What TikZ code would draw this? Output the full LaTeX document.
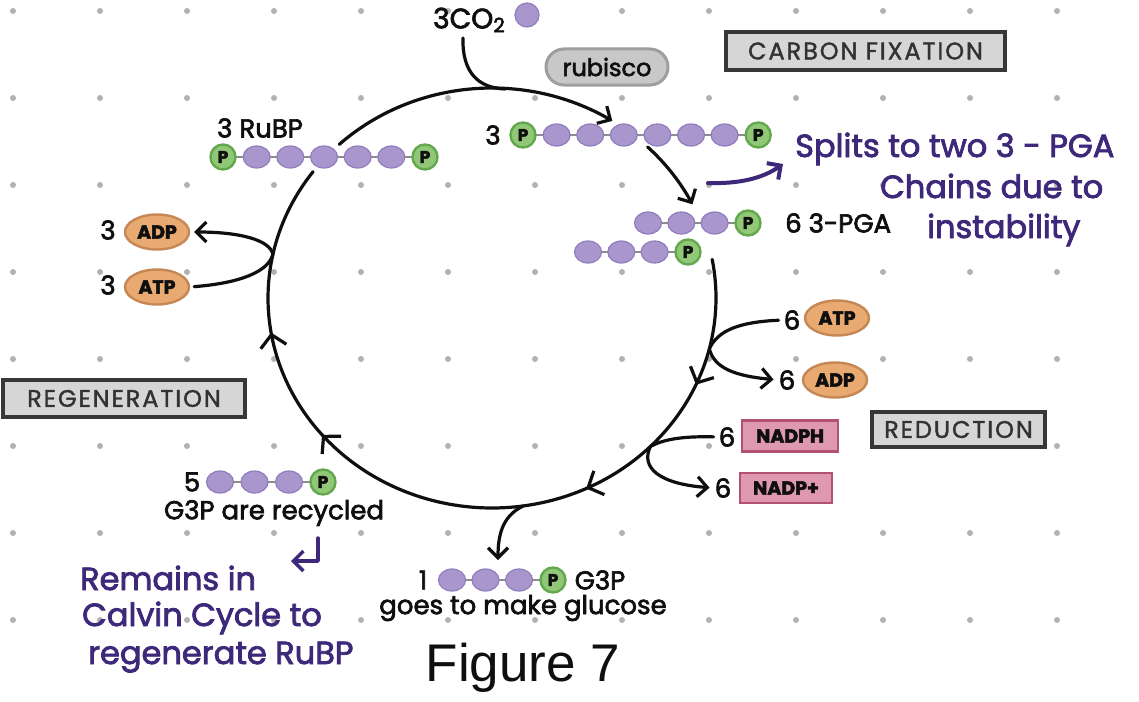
\documentclass[tikz,border=0pt]{standalone}
\usepackage{fontspec}
\setmainfont{Poppins}[FakeBold=2.5]
\newfontfamily\boxfont{Poppins}[FakeBold=1.5, LetterSpace=8]
\newfontfamily\figfont{Liberation Sans}
\usetikzlibrary{arrows.meta,shapes.geometric,decorations.markings,backgrounds}
\definecolor{ink}{RGB}{15,15,15}
\definecolor{hand}{RGB}{62,40,122}
\definecolor{carbfill}{RGB}{168,150,205}
\definecolor{carbedge}{RGB}{145,125,190}
\definecolor{phfill}{RGB}{145,200,120}
\definecolor{phedge}{RGB}{100,168,78}
\definecolor{enfill}{RGB}{232,170,112}
\definecolor{enedge}{RGB}{196,135,85}
\definecolor{nadfill}{RGB}{222,152,176}
\definecolor{nadedge}{RGB}{178,82,112}
\definecolor{boxfill}{RGB}{214,214,214}
\definecolor{boxedge}{RGB}{55,55,55}
\definecolor{boxtext}{RGB}{50,50,50}
\definecolor{pillfill}{RGB}{200,200,200}
\definecolor{pilledge}{RGB}{158,158,158}
\definecolor{dotc}{RGB}{178,178,178}
\definecolor{bondc}{RGB}{140,140,140}
\begin{document}
\begin{tikzpicture}[x=1pt,y=-1pt,
  every node/.style={inner sep=0pt, text=ink},
  lbl/.style={font=\fontsize{26}{28}\selectfont},
  purp/.style={font=\fontsize{32}{34}\selectfont, text=hand, anchor=base west},
  carb/.style={ellipse, minimum width=27pt, minimum height=22pt, fill=carbfill, draw=carbedge, line width=1.2pt},
  phos/.style={circle, minimum size=25pt, fill=phfill, draw=phedge, line width=2.4pt, font=\bfseries\fontsize{17}{17}\selectfont},
  bond/.style={draw=bondc, line width=2.6pt},
  energy/.style={ellipse, minimum width=64pt, minimum height=35pt, fill=enfill, draw=enedge, line width=2.4pt, font=\bfseries\fontsize{19}{19}\selectfont},
  nad/.style={rectangle, minimum height=31pt, fill=nadfill, draw=nadedge, line width=2.4pt, font=\bfseries\fontsize{19}{19}\selectfont},
  stagebox/.style={rectangle, fill=boxfill, draw=boxedge, line width=3.2pt, text=boxtext, font=\boxfont\fontsize{24}{24}\selectfont},
  cyc/.style={draw=ink, line width=3.2pt, line cap=round},
  tip/.style={-{Straight Barb[length=10pt,width=20pt]}},
  parr/.style={draw=hand, line width=4pt, line cap=round, -{Straight Barb[length=10pt,width=20pt]}},
  chev/.style={decoration={markings,
     mark=at position 0.15 with {\arrow{Straight Barb[length=12pt,width=26pt]}},
     mark=at position 0.33 with {\arrow{Straight Barb[length=12pt,width=26pt]}},
     mark=at position 0.665 with {\arrow{Straight Barb[length=12pt,width=26pt]}},
     mark=at position 0.80 with {\arrow{Straight Barb[length=12pt,width=26pt]}}},
     postaction={decorate}}
]
\begin{pgfonlayer}{background}
  \fill[white] (0,0) rectangle (1139,701);
  \foreach \i in {0,...,12}
    \foreach \j in {0,...,7}
      \fill[dotc] ({13+87*\i},{11+87*\j}) circle[radius=3pt];
\end{pgfonlayer}
\useasboundingbox (0,0) rectangle (1139,701);

% ---- stage boxes
\node[stagebox, minimum width=279pt, minimum height=38pt] (fix) at (865.5,51) {CARBON FIXATION};
\node[stagebox, minimum width=173pt, minimum height=35pt] (red) at (958.5,429.5) {REDUCTION};
\node[stagebox, minimum width=242pt, minimum height=37pt] (regen) at (124,398.5) {REGENERATION};

% ---- CO2 and rubisco
\node[font=\fontsize{28}{28}\selectfont] (co2) at (469,20) {3CO\raisebox{-4pt}{\fontsize{20}{20}\selectfont 2}};
\node[carb, minimum width=24pt, minimum height=24pt] (co2c) at (527,15) {};
\node[rectangle, rounded corners=18pt, minimum width=122pt, minimum height=36pt, fill=pillfill, draw=pilledge, line width=3pt, font=\fontsize{24}{24}\selectfont] (rub) at (607,67) {rubisco};

% ---- six-carbon chain
\node[lbl] (n6c) at (493,135) {3};
\node[phos] (c6p1) at (523,135) {P};
\foreach \i/\x in {1/556.6,2/590.2,3/623.8,4/657.4,5/691,6/724.6}
  \node[carb] (c6c\i) at (\x,135) {};
\node[phos] (c6p2) at (758.2,135) {P};

% ---- RuBP chain
\node[lbl] (rubpl) at (260,128) {3 RuBP};
\node[phos] (rbp1) at (223,157) {P};
\foreach \i/\x in {1/256.7,2/290.3,3/324,4/357.7,5/391.3}
  \node[carb] (rbc\i) at (\x,157) {};
\node[phos] (rbp2) at (425,157) {P};

% ---- 3-PGA chains
\foreach \i/\x in {1/648,2/681.3,3/714.6}
  \node[carb] (pa\i) at (\x,223) {};
\node[phos] (pap) at (748,223) {P};
\foreach \i/\x in {1/588,2/621.3,3/654.6}
  \node[carb] (pb\i) at (\x,252) {};
\node[phos] (pbp) at (688,252) {P};
\node[lbl, anchor=west] (pgal) at (785,223) {6 3-PGA};

% ---- right ATP / ADP
\node[lbl] (atpn) at (792,320) {6};
\node[energy] (atp6) at (837,318) {ATP};
\node[lbl] (adpn) at (787,380) {6};
\node[energy] (adp6) at (835,380) {ADP};

% ---- NADPH / NADP+
\node[lbl] (nadphn) at (727,437) {6};
\node[nad, minimum width=96pt] (nadph) at (790,436) {NADPH};
\node[lbl] (nadpn) at (723,488) {6};
\node[nad, minimum width=92pt, minimum height=30pt] (nadp) at (786,488) {NADP+};

% ---- left ADP / ATP
\node[lbl] (adpn3) at (108,230) {3};
\node[energy] (adp3) at (157,232) {ADP};
\node[lbl] (atpn3) at (108,285) {3};
\node[energy] (atp3) at (157,287) {ATP};

% ---- regenerated G3P
\node[lbl] (n5) at (192,482) {5};
\foreach \i/\x in {1/220,2/254.5,3/289}
  \node[carb] (ga\i) at (\x,482) {};
\node[phos] (gap) at (323,482) {P};
\node[lbl] (recyc) at (274,513) {G3P are recycled};

% ---- exported G3P
\node[lbl] (n1) at (423,580) {1};
\foreach \i/\x in {1/452,2/485.5,3/519}
  \node[carb] (gb\i) at (\x,580) {};
\node[phos] (gbp) at (553,580) {P};
\node[lbl] (g3pl) at (600,580) {G3P};
\node[lbl] (gluc) at (523,608) {goes to make glucose};

% ---- bonds
\begin{pgfonlayer}{background}
  \draw[bond] (c6p1.center) -- (c6p2.center);
  \draw[bond] (rbp1.center) -- (rbp2.center);
  \draw[bond] (pa1.center) -- (pap.center);
  \draw[bond] (pb1.center) -- (pbp.center);
  \draw[bond] (ga1.center) -- (gap.center);
  \draw[bond] (gb1.center) -- (gbp.center);
\end{pgfonlayer}

% ---- cycle
\coordinate (J1) at ({492+224*cos(14)},{298+210*sin(14)});
\coordinate (J2) at ({492+224*cos(45)},{298+210*sin(45)});
\coordinate (J3) at ({492+224*cos(192)},{298+210*sin(192)});
\coordinate (J4) at ({492+224*cos(82)},{298+210*sin(82)});
\coordinate (co2start) at (463,38);
\coordinate (merge) at (505,89);
\coordinate (g3ptip) at (498,560);

\draw[cyc, tip] plot[domain=227:302.5, samples=60] ({492+224*cos(\x)},{298+210*sin(\x)});
\draw[cyc, tip] plot[domain=314:333.5, samples=20] ({492+224*cos(\x)},{298+210*sin(\x)});
\draw[cyc, chev] plot[domain=-10.6:217, samples=160] ({492+224*cos(\x)},{298+210*sin(\x)});
\draw[cyc] (co2start) .. controls (462,72) and (478,88) .. (merge);

% ---- branches
\draw[cyc, shorten <=5pt] (atpn.west) .. controls (740,322) and (718,330) .. (J1);
\draw[cyc, tip, shorten >=5pt] (J1) .. controls (714,368) and (735,376) .. (adpn.west);
\draw[cyc, shorten <=5pt] (nadphn.west) .. controls (680,436) and (662,440) .. (J2);
\draw[cyc, tip, shorten >=5pt] (J2) .. controls (640,468) and (660,484) .. (nadpn.west);
\draw[cyc, shorten <=4pt] (atp3.east) .. controls (240,283) and (268,272) .. (J3);
\draw[cyc, tip, shorten >=4pt] (J3) .. controls (270,240) and (240,232) .. (adp3.east);
\draw[cyc, tip] (J4) .. controls (505,515) and (498,530) .. (g3ptip);

% ---- handwritten notes
\node[purp] (splits) at (795,157) {Splits to two 3 - PGA};
\node[purp] (chains) at (880,198) {Chains due to};
\node[purp] (instab) at (927,238) {instability};
\coordinate (spA) at (708,183);
\coordinate (spB) at (783,164);
\draw[parr] (spA) .. controls (740,184) and (763,178) .. (spB);

\node[purp] (rem1) at (80,590) {Remains in};
\node[purp] (rem2) at (82,626) {Calvin Cycle to};
\node[purp] (rem3) at (88,664) {regenerate RuBP};
\coordinate (hkA) at (318,538);
\coordinate (hkB) at (318,561);
\coordinate (hkC) at (291,561);
\draw[parr, line width=3.5pt, line join=round] (hkA) -- (hkB) -- (hkC);

% ---- caption
\node[font=\figfont\fontsize{53}{53}\selectfont] (fig) at (523,668) {Figure 7};
\end{tikzpicture}
\end{document}
